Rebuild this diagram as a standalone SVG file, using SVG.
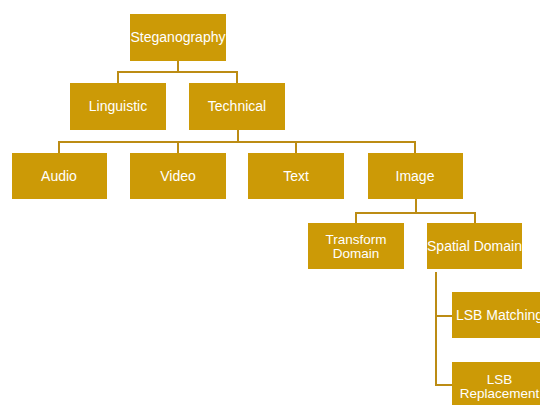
<svg xmlns="http://www.w3.org/2000/svg" width="540" height="405" viewBox="0 0 540 405">
<style>
.box{fill:#CC9A06;}
.lbl{font-family:"Liberation Sans",Arial,sans-serif;font-size:14px;fill:#FFFFFF;text-anchor:middle;}
.two{font-size:13.5px;}
.con{fill:none;stroke:#BC8C14;stroke-width:2;}
</style>
<rect width="540" height="405" fill="#FFFFFF"/>
<g id="connectors">
<path class="con" d="M178,61 V72 M118,83 V72 H237 V83"/>
<path class="con" d="M238,130 V142 M59,153 V142 H415 V153 M178,142 V153 M296,142 V153"/>
<path class="con" d="M416,199 V213 M356,223 V213 H475 V223"/>
<path class="con" d="M436,272 V385 H453 M436,316 H453"/>
</g>
<g id="steganography"><rect class="box" x="130" y="14" width="96" height="47"/><text class="lbl" x="178" y="42">Steganography</text></g>
<g id="linguistic"><rect class="box" x="70" y="83" width="96" height="47"/><text class="lbl" x="118" y="111">Linguistic</text></g>
<g id="technical"><rect class="box" x="189" y="83" width="96" height="47"/><text class="lbl" x="237" y="111">Technical</text></g>
<g id="audio"><rect class="box" x="12" y="153" width="95" height="46"/><text class="lbl" x="59" y="181">Audio</text></g>
<g id="video"><rect class="box" x="130" y="153" width="96" height="46"/><text class="lbl" x="178" y="181">Video</text></g>
<g id="text"><rect class="box" x="248" y="153" width="96" height="46"/><text class="lbl" x="296" y="181">Text</text></g>
<g id="image"><rect class="box" x="368" y="153" width="95" height="46"/><text class="lbl" x="415" y="181">Image</text></g>
<g id="transform-domain"><rect class="box" x="308" y="223" width="96" height="46"/><text class="lbl two" x="356" y="243.5">Transform</text><text class="lbl two" x="356" y="258">Domain</text></g>
<g id="spatial-domain"><rect class="box" x="427" y="223" width="95" height="46"/><text class="lbl" x="474.5" y="251">Spatial Domain</text></g>
<g id="lsb-matching"><rect class="box" x="452" y="292" width="95" height="46"/><text class="lbl" x="499.5" y="320">LSB Matching</text></g>
<g id="lsb-replacement"><rect class="box" x="452" y="362" width="95" height="47"/><text class="lbl two" x="499.5" y="383.5">LSB</text><text class="lbl two" x="499.5" y="398">Replacement</text></g>
</svg>
